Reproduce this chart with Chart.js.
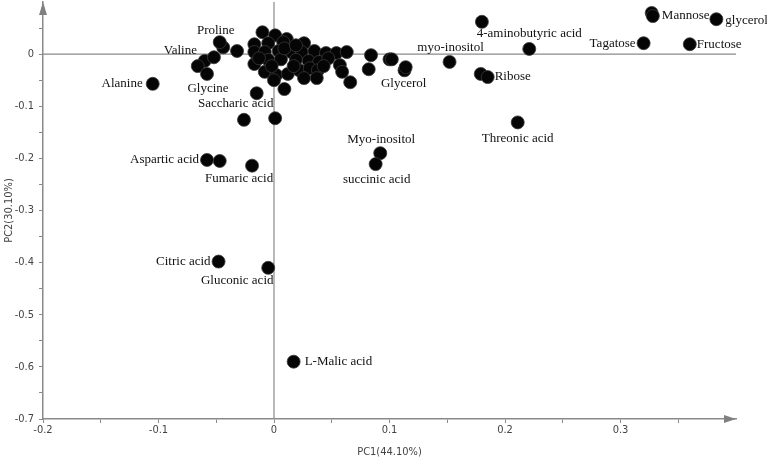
<!DOCTYPE html>
<html>
<head>
<meta charset="utf-8">
<script src="https://cdn.jsdelivr.net/npm/chart.js@4"></script>
<style>
  html, body { margin: 0; padding: 0; background: #fff; }
  canvas { display: block; }
</style>
</head>
<body>
<canvas id="pcaChart" width="767" height="462"></canvas>
<script>
// named metabolites (PC1, PC2)
const labelNames = ['Alanine', 'Proline', 'Valine', 'Glycine', 'Saccharic acid', 'Aspartic acid',
  'Fumaric acid', 'Citric acid', 'Gluconic acid', 'L-Malic acid', 'Myo-inositol', 'succinic acid',
  'Glycerol', 'myo-inositol', '4-aminobutyric acid', 'Ribose', 'Threonic acid', 'Tagatose',
  'Fructose', 'Mannose', 'glycerol'];
const labelX = [-0.105, -0.047, -0.052, -0.058, -0.015, -0.058, -0.019, -0.048, -0.005, 0.017,
  0.092, 0.088, 0.114, 0.152, 0.221, 0.185, 0.211, 0.320, 0.360, 0.328, 0.383];
const labelY = [-0.057, 0.023, -0.006, -0.038, -0.075, -0.203, -0.214, -0.398, -0.410, -0.590,
  -0.190, -0.211, -0.025, -0.015, 0.010, -0.044, -0.131, 0.021, 0.019, 0.073, 0.067];

// unnamed points
const otherX = [-0.044, -0.060, -0.066, -0.032, -0.047, -0.026, 0.001, 0.179, 0.180, 0.327, 0.113,
  -0.010, 0.001, 0.011, -0.017, -0.005, 0.008, 0.026, -0.017, -0.008, 0.004, 0.015, 0.024, 0.035,
  0.045, 0.054, 0.063, 0.084, 0.100, 0.102, -0.017, -0.005, 0.006, 0.019, 0.030, 0.039, 0.047,
  0.057, -0.008, 0.002, 0.012, 0.022, 0.031, 0.038, 0.000, 0.026, 0.037, 0.059, 0.066, 0.082,
  0.009, -0.013, 0.017, 0.009, 0.019, 0.043, -0.002];
const otherY = [0.013, -0.013, -0.023, 0.006, -0.205, -0.126, -0.123, -0.038, 0.062, 0.079, -0.031,
  0.042, 0.036, 0.029, 0.019, 0.021, 0.023, 0.021, 0.004, 0.004, 0.006, 0.004, 0.004, 0.006,
  0.002, 0.002, 0.004, -0.002, -0.010, -0.010, -0.019, -0.011, -0.010, -0.011, -0.013, -0.015, -0.008,
  -0.021, -0.034, -0.040, -0.038, -0.031, -0.027, -0.031, -0.050, -0.046, -0.046, -0.034, -0.054, -0.029,
  -0.067, -0.008, -0.023, 0.011, 0.017, -0.023, -0.023];

const xTitle = 'PC1(44.10%)';
const yTitle = 'PC2(30.10%)';

// label placement relative to its point: [dx, dy, align]
const labelPlace = {
  'Alanine': [-10, 0, 'right'], 'Proline': [-4, -12, 'center'], 'Valine': [-17, -7, 'right'],
  'Glycine': [1, 15, 'center'], 'Saccharic acid': [-21, 10, 'center'], 'Aspartic acid': [-8, 0, 'right'],
  'Fumaric acid': [-13, 13, 'center'], 'Citric acid': [-8, 0, 'right'], 'Gluconic acid': [-31, 13, 'center'],
  'L-Malic acid': [11, 0, 'left'], 'Myo-inositol': [1, -14, 'center'], 'succinic acid': [1, 15, 'center'],
  'Glycerol': [-2, 16, 'center'], 'myo-inositol': [1, -14, 'center'], '4-aminobutyric acid': [0, -15, 'center'],
  'Ribose': [7, 0, 'left'], 'Threonic acid': [0, 16, 'center'], 'Tagatose': [-8, 0, 'right'],
  'Fructose': [7, 0, 'left'], 'Mannose': [9, 0, 'left'], 'glycerol': [9, 1, 'left']
};

const axisGray = '#8a8a8a';
const tickFont = { family: "'DejaVu Sans Condensed', 'Liberation Sans Narrow', sans-serif", size: 11 };

const fmtTick = v => {
  const t = v * 10;
  if (Math.abs(Math.round(t) - t) > 1e-6) return '';
  const r = Math.round(t) / 10;
  return r === 0 ? '0' : String(r);
};

const axesPlugin = {
  id: 'axesDecor',
  beforeDatasetsDraw(chart) {
    const { ctx, chartArea: a, scales: { x, y } } = chart;
    const x0 = x.getPixelForValue(0), y0 = y.getPixelForValue(0);
    ctx.save();
    ctx.strokeStyle = axisGray;
    ctx.lineWidth = 1.2;
    ctx.beginPath();
    ctx.moveTo(x0, a.top); ctx.lineTo(x0, a.bottom);
    ctx.moveTo(a.left, y0); ctx.lineTo(a.right, y0);
    ctx.stroke();
    // arrow heads
    ctx.fillStyle = '#808080';
    ctx.beginPath();
    ctx.moveTo(a.right, a.bottom);
    ctx.lineTo(a.right - 12, a.bottom - 4);
    ctx.lineTo(a.right - 12, a.bottom + 4);
    ctx.closePath();
    ctx.fill();
    ctx.beginPath();
    ctx.moveTo(a.left, a.top);
    ctx.lineTo(a.left - 4, a.top + 13);
    ctx.lineTo(a.left + 4, a.top + 13);
    ctx.closePath();
    ctx.fill();
    ctx.restore();
  },
  afterDatasetsDraw(chart) {
    const { ctx } = chart;
    const pts = chart.getDatasetMeta(0).data;
    ctx.save();
    ctx.font = "13px 'Liberation Serif', 'Times New Roman', serif";
    ctx.fillStyle = '#111';
    ctx.textBaseline = 'middle';
    labelNames.forEach((name, i) => {
      const p = labelPlace[name];
      ctx.textAlign = p[2];
      ctx.fillText(name, pts[i].x + p[0], pts[i].y + p[1]);
    });
    ctx.restore();
  }
};

const pointStyle = {
  backgroundColor: '#050505',
  borderColor: '#3a3a3a',
  borderWidth: 0.8,
  pointRadius: 6.5,
  pointHoverRadius: 6.5
};

new Chart(document.getElementById('pcaChart'), {
  type: 'scatter',
  data: {
    datasets: [
      { label: 'named', data: labelX.map((v, i) => ({ x: v, y: labelY[i] })), ...pointStyle },
      { label: 'other', data: otherX.map((v, i) => ({ x: v, y: otherY[i] })), ...pointStyle }
    ]
  },
  options: {
    responsive: false,
    animation: false,
    layout: { autoPadding: false, padding: { top: 2, right: 31, left: 0, bottom: 0 } },
    plugins: { legend: { display: false }, tooltip: { enabled: false } },
    scales: {
      x: {
        type: 'linear',
        min: -0.2,
        max: 0.4,
        afterBuildTicks: s => { s.ticks = s.ticks.filter(t => t.value < 0.39); },
        afterFit: s => { s.height = 43; s.paddingRight = 0; },
        border: { display: true, color: axisGray, width: 1.5 },
        grid: { drawOnChartArea: false, drawTicks: true, tickLength: 4, color: axisGray },
        ticks: { stepSize: 0.05, autoSkip: false, maxRotation: 0, padding: 1, color: '#444',
          font: tickFont, callback: fmtTick },
        title: { display: true, text: xTitle, color: '#444', font: tickFont, padding: { top: 0, bottom: 3 } }
      },
      y: {
        type: 'linear',
        min: -0.7,
        max: 0.1,
        afterBuildTicks: s => { s.ticks = s.ticks.filter(t => t.value < 0.09); },
        afterFit: s => { s.width = 43; s.paddingTop = 0; },
        border: { display: true, color: axisGray, width: 1.5 },
        grid: { drawOnChartArea: false, drawTicks: true, tickLength: 4, color: axisGray },
        ticks: { stepSize: 0.05, autoSkip: false, padding: 5, color: '#444',
          font: tickFont, callback: fmtTick },
        title: { display: true, text: yTitle, color: '#444', font: tickFont, padding: { top: 3, bottom: 0 } }
      }
    }
  },
  plugins: [axesPlugin]
});
</script>
</body>
</html>
